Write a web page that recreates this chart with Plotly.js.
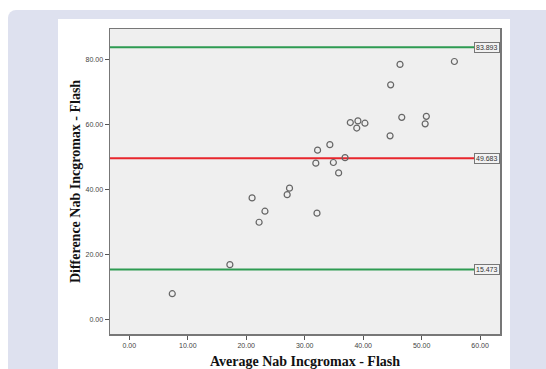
<!DOCTYPE html>
<html><head><meta charset="utf-8">
<script src="https://cdn.plot.ly/plotly-3.0.1.min.js"></script>
<style>
html,body{margin:0;padding:0;background:#fff;width:546px;height:369px;overflow:hidden;}
#bg{position:absolute;left:8px;top:10px;width:538px;height:359px;background:#dee1ef;border-top-left-radius:8px;}
#panel{position:absolute;left:58px;top:19px;width:452px;height:350px;background:#fff;}
#chart{position:absolute;left:0;top:0;width:546px;height:369px;}
</style></head>
<body>
<div id="bg"></div><div id="panel"></div><div id="chart"></div>
<script>
const avg  = [7.35,17.2,21.0,22.2,23.2,27.0,27.4,32.1,35.8,46.3,55.6,44.7,37.8,39.1,38.9,40.3,46.6,50.8,50.6,44.6,32.2,34.3,31.9,34.9,36.9];
const diff = [8.0,16.95,37.5,30.0,33.4,38.5,40.5,32.8,45.2,78.6,79.5,72.3,60.7,61.2,59.0,60.5,62.3,62.6,60.3,56.6,52.2,53.9,48.2,48.4,49.9];
const meanDiff = 49.683;
const upperLoA = 83.893;
const lowerLoA = 15.473;
const refLines = [
  {value: upperLoA, color: '#2e9b52'},
  {value: meanDiff, color: '#e8262c'},
  {value: lowerLoA, color: '#2e9b52'}
];
const xTicks = [0,10,20,30,40,50,60];
const yTicks = [0,20,40,60,80];

const xr = [-3.3, 63.4];
const traces = refLines.map(r => ({
  x: xr, y: [r.value, r.value], mode: 'lines', type: 'scatter',
  line: {color: r.color, width: 2}, hoverinfo: 'skip', showlegend: false
}));
traces.push({
  x: avg, y: diff, mode: 'markers', type: 'scatter', showlegend: false,
  marker: {symbol: 'circle-open', size: 6, color: '#666', line: {width: 1.2, color: '#666'}}
});

const annotations = refLines.map(r => ({
  x: 1, xref: 'paper', xanchor: 'right', y: r.value, yref: 'y', yanchor: 'middle',
  text: r.value.toFixed(3), showarrow: false,
  font: {family: 'Liberation Sans, Arial', size: 7, color: '#333'},
  bgcolor: '#f2f2f2', bordercolor: '#777', borderwidth: 1, borderpad: 1
}));

const layout = {
  width: 546, height: 369,
  margin: {l: 110, r: 46, t: 29, b: 35},
  paper_bgcolor: 'rgba(0,0,0,0)',
  plot_bgcolor: '#efefef',
  showlegend: false,
  xaxis: {
    range: xr, tickvals: xTicks, ticktext: xTicks.map(v => v.toFixed(2)),
    ticks: 'outside', ticklen: 4, tickcolor: '#555', showgrid: false, zeroline: false,
    showline: true, mirror: true, linecolor: '#777', linewidth: 1.5,
    tickfont: {family: 'Liberation Sans, Arial', size: 7, color: '#444'},
    title: {text: 'Average Nab Incgromax - Flash', standoff: 9,
      font: {family: 'Liberation Serif, Times New Roman', size: 14, color: '#111', weight: 'bold'}}
  },
  yaxis: {
    range: [-4.4, 89.5], tickvals: yTicks, ticktext: yTicks.map(v => v.toFixed(2)),
    ticks: 'outside', ticklen: 4, tickcolor: '#555', showgrid: false, zeroline: false,
    showline: true, mirror: true, linecolor: '#777', linewidth: 1.5,
    tickfont: {family: 'Liberation Sans, Arial', size: 7, color: '#444'},
    title: {text: 'Difference Nab Incgromax - Flash', standoff: 1,
      font: {family: 'Liberation Serif, Times New Roman', size: 14, color: '#111', weight: 'bold'}}
  },
  annotations: annotations
};
Plotly.newPlot('chart', traces, layout, {displayModeBar: false, staticPlot: true});
</script>
</body></html>
